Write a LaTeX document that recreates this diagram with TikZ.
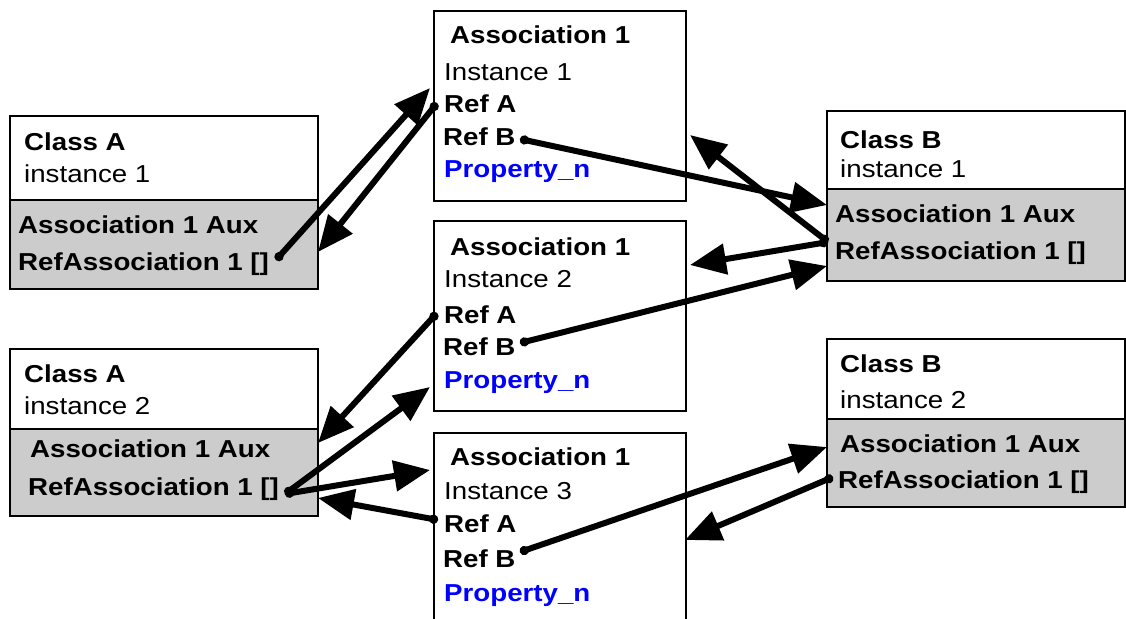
\documentclass[tikz,border=0pt]{standalone}
\usepackage{fontspec}
\setmainfont{Liberation Sans}[FakeStretch=1.13]
\usetikzlibrary{arrows.meta}
\definecolor{auxgray}{RGB}{204,204,204}
\definecolor{propblue}{RGB}{0,0,255}
\tikzset{
 box/.style={draw=black, line width=2.2pt, anchor=north west, inner sep=0pt},
 auxbox/.style={box, fill=auxgray},
 txt/.style={anchor=base west, inner sep=0pt, font=\fontsize{24.5}{29}\selectfont},
 btxt/.style={anchor=base west, inner sep=0pt, font=\fontsize{24.5}{29}\selectfont\bfseries},
 ptxt/.style={btxt, text=propblue},
 link/.style={line width=6pt, line cap=round, {Circle[length=9pt]}-{Triangle[length=36pt,width=30pt]}},
}
\begin{document}
\begin{tikzpicture}[x=1pt,y=-1pt]
\clip (0,0) rectangle (1126,618);
\fill[white] (0,0) rectangle (1126,618);
% Class A instance 1
\node[box, minimum width=308pt, minimum height=84pt] (ca1) at (9,115) {};
\node[auxbox, minimum width=308pt, minimum height=89pt] (ca1aux) at (9,199) {};
\node[btxt] (ca1n) at (24,150) {Class A};
\node[txt] (ca1i) at (24,182) {instance 1};
\node[btxt] (ca1a) at (18,233) {Association 1 Aux};
\node[btxt] (ca1r) at (18,270) {RefAssociation 1 []};
% Class A instance 2
\node[box, minimum width=308pt, minimum height=80pt] (ca2) at (9,348) {};
\node[auxbox, minimum width=308pt, minimum height=87pt] (ca2aux) at (9,428) {};
\node[btxt] (ca2n) at (24,382) {Class A};
\node[txt] (ca2i) at (24,414) {instance 2};
\node[btxt] (ca2a) at (30,457) {Association 1 Aux};
\node[btxt] (ca2r) at (28,495) {RefAssociation 1 []};
% Association instances
\node[box, minimum width=252pt, minimum height=190pt] (as1) at (433,10) {};
\node[btxt] (as1n) at (450,44) {Association 1};
\node[txt] (as1i) at (444,80) {Instance 1};
\node[btxt] (as1ra) at (444,112) {Ref A};
\node[btxt] (as1rb) at (443,145) {Ref B};
\node[ptxt] (as1p) at (444,177) {Property\_n};
\node[box, minimum width=252pt, minimum height=190pt] (as2) at (433,220) {};
\node[btxt] (as2n) at (450,255) {Association 1};
\node[txt] (as2i) at (444,287) {Instance 2};
\node[btxt] (as2ra) at (444,323) {Ref A};
\node[btxt] (as2rb) at (443,355) {Ref B};
\node[ptxt] (as2p) at (444,388) {Property\_n};
\node[box, minimum width=252pt, minimum height=260pt] (as3) at (433,432) {};
\node[btxt] (as3n) at (450,465) {Association 1};
\node[txt] (as3i) at (444,499) {Instance 3};
\node[btxt] (as3ra) at (444,532) {Ref A};
\node[btxt] (as3rb) at (443,567) {Ref B};
\node[ptxt] (as3p) at (444,601) {Property\_n};
% Class B instance 1
\node[box, minimum width=298pt, minimum height=78pt] (cb1) at (826,110) {};
\node[auxbox, minimum width=298pt, minimum height=92pt] (cb1aux) at (826,188) {};
\node[btxt] (cb1n) at (840,148) {Class B};
\node[txt] (cb1i) at (840,177) {instance 1};
\node[btxt] (cb1a) at (835,222) {Association 1 Aux};
\node[btxt] (cb1r) at (835,259) {RefAssociation 1 []};
% Class B instance 2
\node[box, minimum width=298pt, minimum height=80pt] (cb2) at (826,338) {};
\node[auxbox, minimum width=298pt, minimum height=88pt] (cb2aux) at (826,418) {};
\node[btxt] (cb2n) at (840,372) {Class B};
\node[txt] (cb2i) at (840,408) {instance 2};
\node[btxt] (cb2a) at (840,452) {Association 1 Aux};
\node[btxt] (cb2r) at (838,488) {RefAssociation 1 []};
% connector end points
\coordinate (ca1s) at (276,260);
\coordinate (ca1in) at (318,252);
\coordinate (as1as) at (437,103);
\coordinate (as1ain) at (430,88);
\coordinate (as1bs) at (520,139);
\coordinate (as1bin) at (690,135);
\coordinate (cb1s) at (828,242);
\coordinate (cb1in1) at (827,205);
\coordinate (cb1in2) at (827,266);
\coordinate (as2in1) at (690,265);
\coordinate (as2bs) at (520,343);
\coordinate (as2as) at (437,313);
\coordinate (ca2in1) at (318,443);
\coordinate (ca2s) at (285,494);
\coordinate (as2in2) at (430,387);
\coordinate (as3in1) at (430,470);
\coordinate (as3as) at (438,520);
\coordinate (ca2in2) at (318,498);
\coordinate (as3bs) at (520,552);
\coordinate (cb2in) at (827,447);
\coordinate (cb2s) at (833,477);
\coordinate (as3in2) at (685,540);
% connectors
\draw[link] (ca1s) -- (as1ain);
\draw[link] (as1as) -- (ca1in);
\draw[link] (as1bs) -- (cb1in1);
\draw[link] (cb1s) -- (as1bin);
\draw[link] (cb1s) -- (as2in1);
\draw[link] (as2bs) -- (cb1in2);
\draw[link] (as2as) -- (ca2in1);
\draw[link] (ca2s) -- (as2in2);
\draw[link] (ca2s) -- (as3in1);
\draw[link] (as3as) -- (ca2in2);
\draw[link] (as3bs) -- (cb2in);
\draw[link] (cb2s) -- (as3in2);
\end{tikzpicture}
\end{document}
